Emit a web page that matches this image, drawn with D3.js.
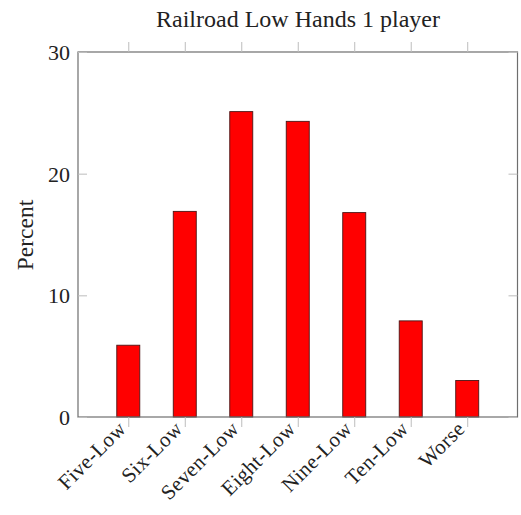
<!DOCTYPE html>
<html><head><meta charset="utf-8">
<script src="https://cdn.jsdelivr.net/npm/d3@7"></script>
<style>body{margin:0;background:#fff}</style>
</head><body>
<svg id="chart" width="521" height="515"></svg>
<script>
const categories = ["Five-Low","Six-Low","Seven-Low","Eight-Low","Nine-Low","Ten-Low","Worse"];
const values = [5.9, 16.9, 25.1, 24.3, 16.8, 7.9, 3.0];
const yTicks = [0, 10, 20, 30];
const title = "Railroad Low Hands 1 player";
const yLabel = "Percent";

(function(){
const svg = d3.select("#chart");
const font = "'Liberation Serif', 'DejaVu Serif', serif";
const mL = 78, mR = 517.5, mT = 52, mB = 417;

const x = d3.scalePoint().domain(categories).range([mL, mR]).padding(0.89);
const y = d3.scaleLinear().domain([0, 30]).range([mB, mT]);

svg.append("g").selectAll("rect").data(values).join("rect")
  .attr("x", (d,i) => x(categories[i]) - 11.5)
  .attr("width", 23)
  .attr("y", d => y(d))
  .attr("height", d => y(0) - y(d))
  .attr("fill", "#ff0000")
  .attr("stroke", "#4a1515")
  .attr("stroke-width", 0.9);

svg.append("rect").attr("x", mL).attr("y", mT)
  .attr("width", mR-mL).attr("height", mB-mT)
  .attr("fill", "none").attr("stroke", "#6e6e6e").attr("stroke-width", 1.2);

const gxb = svg.append("g").attr("transform", `translate(0,${mB})`).call(d3.axisBottom(x).tickSize(10).tickFormat(""));
gxb.select(".domain").remove();
gxb.selectAll("line").attr("stroke", "#bdbdbd");
const gxt = svg.append("g").attr("transform", `translate(0,${mT})`).call(d3.axisTop(x).tickSize(10).tickFormat(""));
gxt.select(".domain").remove();
gxt.selectAll("line").attr("stroke", "#bdbdbd");

const gyl = svg.append("g").attr("transform", `translate(${mL},0)`)
  .call(d3.axisRight(y).tickValues(yTicks).tickSize(9).tickFormat(""));
gyl.select(".domain").remove();
gyl.selectAll("line").attr("stroke", "#bdbdbd");
const gyr = svg.append("g").attr("transform", `translate(${mR},0)`)
  .call(d3.axisLeft(y).tickValues(yTicks).tickSize(9).tickFormat(""));
gyr.select(".domain").remove();
gyr.selectAll("line").attr("stroke", "#bdbdbd");

svg.append("g").selectAll("text").data(yTicks).join("text")
  .attr("x", mL - 8).attr("y", d => y(d)).attr("dy", "0.36em")
  .attr("text-anchor", "end").attr("font-family", font).attr("font-size", 22)
  .attr("fill", "#222").text(d => d);

svg.append("g").selectAll("text").data(categories).join("text")
  .attr("transform", d => `translate(${x(d)-1},${mB+13}) rotate(-45)`)
  .attr("text-anchor", "end").attr("font-family", font).attr("font-size", 21)
  .attr("letter-spacing", 0.4)
  .attr("fill", "#222").text(d => d);

svg.append("text")
  .attr("transform", `translate(33,235) rotate(-90)`)
  .attr("text-anchor", "middle").attr("font-family", font).attr("font-size", 23.5)
  .attr("fill", "#222").text(yLabel);

svg.append("text").attr("x", 298).attr("y", 27)
  .attr("text-anchor", "middle").attr("font-family", font).attr("font-size", 24)
  .attr("fill", "#222").text(title);
})();
</script>
</body></html>
